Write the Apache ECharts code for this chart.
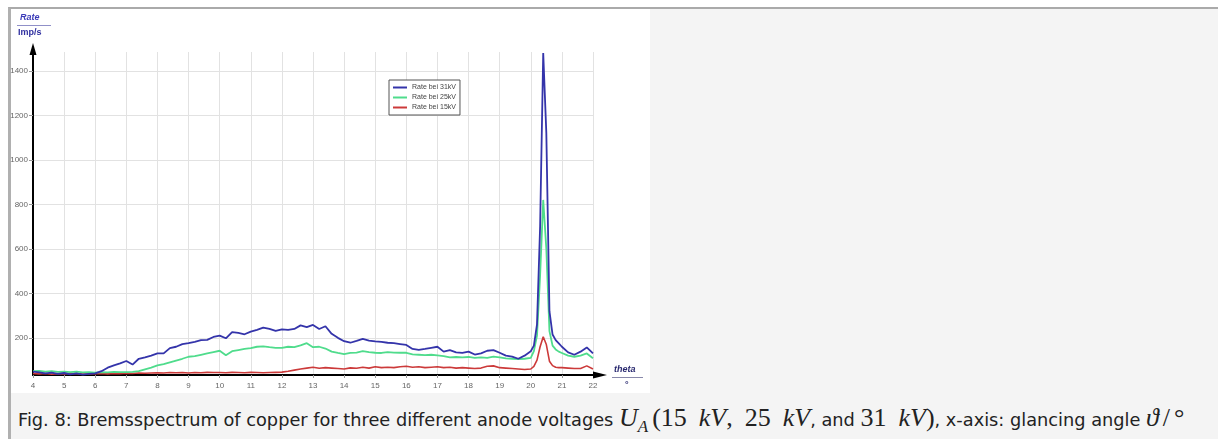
<!DOCTYPE html>
<html>
<head>
<meta charset="utf-8">
<script src="https://cdn.jsdelivr.net/npm/echarts@6/dist/echarts.min.js"></script>
<style>
  html, body { margin: 0; padding: 0; width: 1218px; height: 439px; background: #fff; overflow: hidden; }
  #frame { position: absolute; left: 8px; top: 7px; width: 1210px; height: 432px; box-sizing: border-box;
           border-top: 2px solid #aaa; border-left: 3px solid #b0b0b0; background: #f4f4f4; }
  #paper { position: absolute; left: 11px; top: 9px; width: 639px; height: 384px; background: #fff; }
  #chart { position: absolute; left: 0; top: 0; width: 660px; height: 395px; }
  #cap { position: absolute; left: 18px; top: 403px; white-space: nowrap; font-family: "DejaVu Sans", sans-serif;
         font-size: 17.75px; color: #222; }
  #cap .m { font-family: "Liberation Serif", "DejaVu Serif", serif; font-size: 26px; }
  #cap .m i { font-style: italic; }
  #cap .s { display: inline-block; width: 12px; }
  #cap .t { display: inline-block; width: 4px; }
  #cap sub { font-size: 17px; }
</style>
</head>
<body>
<div id="frame"></div>
<div id="paper"></div>
<div id="chart"></div>
<div id="cap">Fig. 8: Bremsspectrum of copper for three different anode voltages <span class="m"><i>U</i><sub><i>A</i></sub><span class="t"></span>(15<span class="s"></span><i>kV</i>,<span class="s"></span>25<span class="s"></span><i>kV</i></span>, and <span class="m">31<span class="s"></span><i>kV</i>)</span>, x-axis: glancing angle <span class="m"><i>ϑ</i><span class="t"></span>/<span class="t"></span>°</span></div>
<script>
const theta = [
  4.0,4.2,4.4,4.6,4.8,5.0,5.2,5.4,5.6,5.8,
  6.0,6.2,6.4,6.6,6.8,7.0,7.2,7.4,7.6,7.8,
  8.0,8.2,8.4,8.6,8.8,9.0,9.2,9.4,9.6,9.8,
  10.0,10.2,10.4,10.6,10.8,11.0,11.2,11.4,11.6,11.8,
  12.0,12.2,12.4,12.6,12.8,13.0,13.2,13.4,13.6,13.8,
  14.0,14.2,14.4,14.6,14.8,15.0,15.2,15.4,15.6,15.8,
  16.0,16.2,16.4,16.6,16.8,17.0,17.2,17.4,17.6,17.8,
  18.0,18.2,18.4,18.6,18.8,19.0,19.2,19.4,19.6,19.8,
  20.0,20.1,20.2,20.3,20.4,20.5,20.6,20.7,20.8,20.9,
  21.0,21.2,21.4,21.6,21.8,22.0
];
const rate31 = [
  48,45,40,44,38,42,36,40,35,38,
  40,50,66,76,85,96,80,106,112,120,
  130,130,154,160,172,176,182,190,191,204,
  210,198,226,222,216,228,236,246,240,231,
  238,236,240,256,248,258,240,252,218,200,
  185,178,186,195,188,184,182,178,176,172,
  168,150,146,150,155,160,138,145,135,132,
  138,125,130,142,145,133,120,116,106,120,
  140,165,260,700,1480,1120,320,215,190,175,
  160,135,124,138,157,130
];
const rate25 = [
  50,52,48,50,47,48,46,48,45,46,
  44,46,45,47,46,46,47,50,58,66,
  76,82,90,98,106,115,118,124,130,136,
  142,122,140,145,150,154,160,162,158,155,
  155,160,158,166,176,158,160,152,138,132,
  127,132,134,140,136,133,132,136,134,133,
  133,126,124,122,124,121,118,112,114,112,
  114,110,112,110,116,112,108,106,104,106,
  110,140,210,480,820,600,230,165,148,138,
  132,120,115,120,130,108
];
const rate15 = [
  40,38,40,37,39,38,40,39,37,38,
  39,40,38,40,39,41,40,42,41,42,
  43,42,44,43,44,42,44,43,45,44,
  44,43,45,44,43,45,44,43,44,45,
  46,50,55,60,64,68,63,66,64,62,
  60,65,63,68,64,70,66,68,66,70,
  72,68,70,66,68,70,66,68,64,66,
  64,62,64,72,74,66,64,62,60,58,
  60,72,100,160,205,170,95,75,68,66,
  66,64,62,62,74,60
];
const seriesNames = ['Rate bei 31kV', 'Rate bei 25kV', 'Rate bei 15kV'];
const yTicks = [200, 400, 600, 800, 1000, 1200, 1400];

const pairs = arr => theta.map((t, i) => [t, arr[i]]);

const chart = echarts.init(document.getElementById('chart'), null, { renderer: 'canvas' });
chart.setOption({
  backgroundColor: 'transparent',
  animation: false,
  grid: { left: 33, top: 52, width: 560, height: 323, containLabel: false },
  legend: {
    orient: 'vertical', left: 389, top: 80,
    data: seriesNames,
    icon: 'rect', itemWidth: 14, itemHeight: 2, itemGap: 3,
    padding: [4, 4, 4, 4],
    backgroundColor: '#fff', borderColor: '#555', borderWidth: 1,
    textStyle: { fontSize: 7, color: '#444', fontFamily: 'Liberation Sans' }
  },
  xAxis: {
    type: 'value', min: 4, max: 22, interval: 1,
    axisLine: { show: true, lineStyle: { color: '#000', width: 2 },
      symbol: ['none', 'triangle'], symbolSize: [7, 14], symbolOffset: [0, 7] },
    axisTick: { show: true, length: 3, lineStyle: { color: '#999' } },
    axisLabel: { fontSize: 8, color: '#666', margin: 7, fontFamily: 'Liberation Sans',
      formatter: v => String(v) },
    splitLine: { show: true, lineStyle: { color: '#e2e2e2', width: 1 } }
  },
  yAxis: {
    type: 'value', min: 33, max: 1485,
    axisLine: { show: true, lineStyle: { color: '#000', width: 2 },
      symbol: ['none', 'triangle'], symbolSize: [7, 12], symbolOffset: [0, 3] },
    axisTick: { show: true, length: 4, customValues: yTicks, lineStyle: { color: '#999' } },
    axisLabel: { fontSize: 8, color: '#666', margin: 5, customValues: yTicks, fontFamily: 'Liberation Sans',
      formatter: v => String(v) },
    splitLine: { show: true, lineStyle: { color: '#e2e2e2', width: 1 } }
  },
  graphic: [
    { type: 'text', left: 20, top: 13, style: { text: 'Rate', fill: '#3a3ab8', font: 'italic bold 9px "Liberation Sans"' } },
    { type: 'line', shape: { x1: 17, y1: 25.5, x2: 51, y2: 25.5 }, style: { stroke: '#9090c8', lineWidth: 1 } },
    { type: 'text', left: 18, top: 28, style: { text: 'Imp/s', fill: '#3030a0', font: 'bold 9px "Liberation Sans"' } },
    { type: 'text', left: 614, top: 365, style: { text: 'theta', fill: '#2a2a70', font: 'italic bold 9px "Liberation Sans"' } },
    { type: 'line', shape: { x1: 612, y1: 377.5, x2: 643, y2: 377.5 }, style: { stroke: '#8888aa', lineWidth: 1 } },
    { type: 'text', left: 625, top: 380, style: { text: '°', fill: '#2a2a70', font: 'bold 9px "Liberation Sans"' } }
  ],
  series: [
    { name: seriesNames[0], type: 'line', data: pairs(rate31), showSymbol: false, z: 5,
      color: '#3434aa', lineStyle: { width: 1.8, color: '#3434aa' } },
    { name: seriesNames[1], type: 'line', data: pairs(rate25), showSymbol: false, z: 4,
      color: '#4fdc8c', lineStyle: { width: 1.8, color: '#4fdc8c' } },
    { name: seriesNames[2], type: 'line', data: pairs(rate15), showSymbol: false, z: 3,
      color: '#cc3a3a', lineStyle: { width: 1.6, color: '#cc3a3a' } }
  ]
});
</script>
</body>
</html>
